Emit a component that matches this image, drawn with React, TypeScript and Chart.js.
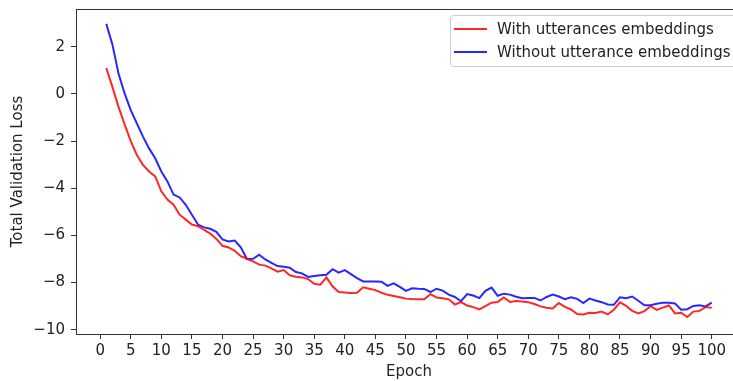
import React, { useEffect, useRef } from "react";
import { Chart, registerables } from "chart.js";

Chart.register(...registerables);

const epochs: number[] = Array.from({ length: 100 }, (_, i) => i + 1);

const withUtterances: number[] = [
  1.1, 0.3, -0.55, -1.29, -2.0, -2.59, -3.01, -3.29, -3.5, -4.13,
  -4.48, -4.7, -5.12, -5.33, -5.54, -5.61, -5.77, -5.92, -6.15, -6.44,
  -6.51, -6.65, -6.88, -6.99, -7.1, -7.24, -7.28, -7.4, -7.54, -7.47,
  -7.69, -7.75, -7.78, -7.85, -8.05, -8.09, -7.78, -8.16, -8.4, -8.42,
  -8.44, -8.43, -8.2, -8.26, -8.32, -8.43, -8.52, -8.57, -8.62, -8.68,
  -8.7, -8.71, -8.71, -8.49, -8.63, -8.66, -8.71, -8.93, -8.83, -8.97,
  -9.04, -9.14, -9.0, -8.85, -8.82, -8.63, -8.82, -8.78, -8.8, -8.83,
  -8.91, -9.01, -9.07, -9.1, -8.87, -9.03, -9.14, -9.33, -9.35, -9.28,
  -9.29, -9.23, -9.35, -9.15, -8.84, -8.99, -9.2, -9.31, -9.21, -9.0,
  -9.16, -9.06, -8.97, -9.31, -9.28, -9.46, -9.23, -9.2, -9.04, -9.07,
];

const withoutUtterances: number[] = [
  2.97, 2.1, 0.86, 0.02, -0.69, -1.25, -1.81, -2.31, -2.73, -3.29,
  -3.71, -4.27, -4.39, -4.7, -5.12, -5.54, -5.66, -5.72, -5.85, -6.17,
  -6.26, -6.22, -6.5, -7.0, -6.99, -6.82, -7.02, -7.16, -7.3, -7.33,
  -7.37, -7.55, -7.61, -7.76, -7.72, -7.69, -7.67, -7.43, -7.58, -7.47,
  -7.64, -7.81, -7.95, -7.95, -7.95, -7.96, -8.14, -8.03, -8.18, -8.35,
  -8.24, -8.26, -8.27, -8.4, -8.26, -8.34, -8.51, -8.61, -8.79, -8.49,
  -8.55, -8.66, -8.35, -8.21, -8.56, -8.47, -8.51, -8.6, -8.66, -8.65,
  -8.65, -8.76, -8.61, -8.51, -8.59, -8.7, -8.62, -8.69, -8.87, -8.68,
  -8.76, -8.83, -8.93, -8.94, -8.62, -8.66, -8.59, -8.77, -8.96, -8.96,
  -8.9, -8.86, -8.86, -8.89, -9.15, -9.13, -8.99, -8.96, -9.01, -8.85,
];

const xTicks: number[] = [0, 5, 10, 15, 20, 25, 30, 35, 40, 45, 50, 55, 60, 65, 70, 75, 80, 85, 90, 95, 100];
const yTicks: number[] = [-10, -8, -6, -4, -2, 0, 2];

const seriesLabels: string[] = ["With utterances embeddings", "Without utterance embeddings"];
const seriesColors: string[] = ["rgba(255,0,0,0.85)", "rgba(0,0,255,0.85)"];

const FONT = "'DejaVu Sans', sans-serif";
const FS = 15;
const TXT = "#222222";
const SPINE = "#333333";

const framePlugin = {
  id: "frameAndLegend",
  afterDraw(chart: any) {
    const { ctx, chartArea } = chart;
    ctx.save();
    ctx.strokeStyle = SPINE;
    ctx.lineWidth = 1;
    ctx.strokeRect(
      Math.round(chartArea.left) + 0.5,
      Math.round(chartArea.top) + 0.5,
      Math.round(chartArea.right - chartArea.left),
      Math.round(chartArea.bottom - chartArea.top)
    );
    // legend
    const bx = 450.5, by = 15.5, bw = 300, bh = 51, r = 3;
    ctx.beginPath();
    ctx.moveTo(bx + r, by);
    ctx.lineTo(bx + bw - r, by);
    ctx.arcTo(bx + bw, by, bx + bw, by + r, r);
    ctx.lineTo(bx + bw, by + bh - r);
    ctx.arcTo(bx + bw, by + bh, bx + bw - r, by + bh, r);
    ctx.lineTo(bx + r, by + bh);
    ctx.arcTo(bx, by + bh, bx, by + bh - r, r);
    ctx.lineTo(bx, by + r);
    ctx.arcTo(bx, by, bx + r, by, r);
    ctx.closePath();
    ctx.fillStyle = "rgba(255,255,255,0.8)";
    ctx.fill();
    ctx.strokeStyle = "#cccccc";
    ctx.stroke();
    const rows = [29, 52];
    chart.data.datasets.forEach((ds: any, i: number) => {
      const y = rows[i];
      ctx.beginPath();
      ctx.moveTo(454, y);
      ctx.lineTo(487, y);
      ctx.strokeStyle = ds.borderColor;
      ctx.lineWidth = 2;
      ctx.stroke();
      ctx.fillStyle = TXT;
      ctx.font = `${FS}px ${FONT}`;
      ctx.textBaseline = "middle";
      ctx.textAlign = "left";
      ctx.fillText(ds.label, 497, y + 1);
    });
    ctx.restore();
  },
};

export default function App() {
  const ref = useRef<HTMLCanvasElement | null>(null);
  useEffect(() => {
    if (!ref.current) return;
    const fmt = (v: number) => (v < 0 ? "\u2212" + Math.abs(v) : String(v));
    const chart = new Chart(ref.current, {
      type: "line",
      data: {
        datasets: [withUtterances, withoutUtterances].map((vals, i) => ({
          label: seriesLabels[i],
          data: epochs.map((e, j) => ({ x: e, y: vals[j] })),
          borderColor: seriesColors[i],
          backgroundColor: seriesColors[i],
          borderWidth: 2,
          pointRadius: 0,
          tension: 0,
          fill: false,
        })),
      },
      options: {
        animation: false,
        responsive: false,
        devicePixelRatio: 1,
        layout: { padding: { left: 0, right: 3, top: 9, bottom: 0 } },
        plugins: {
          legend: { display: false },
          tooltip: { enabled: false },
        },
        scales: {
          x: {
            type: "linear",
            min: -3.95,
            max: 104.95,
            afterBuildTicks: (s: any) => {
              s.ticks = xTicks.map((v) => ({ value: v }));
            },
            afterFit: (s: any) => {
              s.height = 47;
            },
            grid: { display: true, drawOnChartArea: false, drawTicks: true, tickLength: 5, color: SPINE },
            border: { display: true, color: SPINE },
            ticks: {
              autoSkip: false,
              maxRotation: 0,
              padding: 3,
              color: TXT,
              font: { family: FONT, size: FS },
              callback: (v: any) => fmt(Number(v)),
            },
            title: {
              display: true,
              text: "Epoch",
              color: TXT,
              font: { family: FONT, size: FS },
              padding: { top: 0, bottom: 0 },
            },
          },
          y: {
            type: "linear",
            min: -10.18,
            max: 3.6,
            afterBuildTicks: (s: any) => {
              s.ticks = yTicks.map((v) => ({ value: v }));
            },
            afterFit: (s: any) => {
              s.width = 76;
            },
            grid: { display: true, drawOnChartArea: false, drawTicks: true, tickLength: 5, color: SPINE },
            border: { display: true, color: SPINE },
            ticks: {
              autoSkip: false,
              padding: 6,
              color: TXT,
              font: { family: FONT, size: FS, lineHeight: 0.1 },
              callback: (v: any) => fmt(Number(v)),
            },
            title: {
              display: true,
              text: "Total Validation Loss",
              color: TXT,
              font: { family: FONT, size: FS },
              padding: { top: 9, bottom: 0 },
            },
          },
        },
      },
      plugins: [framePlugin],
    } as any);
    return () => chart.destroy();
  }, []);
  return (
    <div
      style={{
        position: "fixed",
        left: 0,
        top: 0,
        width: 733,
        height: 381,
        overflow: "hidden",
        background: "#ffffff",
      }}
    >
      <canvas ref={ref} width={745} height={381} style={{ width: 745, height: 381, display: "block" }} />
    </div>
  );
}
